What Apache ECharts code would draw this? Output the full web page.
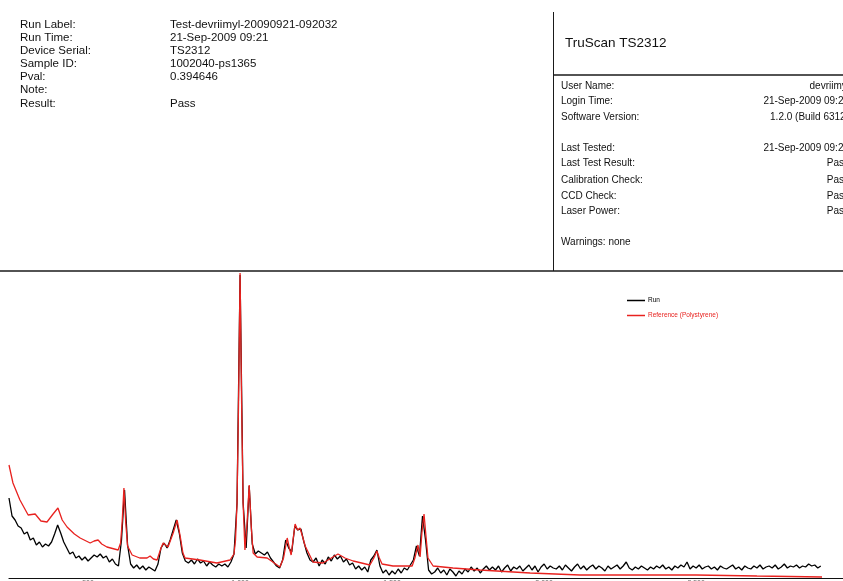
<!DOCTYPE html>
<html>
<head>
<meta charset="utf-8">
<script src="https://cdn.jsdelivr.net/npm/echarts@6/dist/echarts.min.js"></script>
<style>
html,body{margin:0;padding:0;background:#fff;}
#chart{width:843px;height:581px;}
</style>
</head>
<body>
<div id="chart"></div>
<script>
// Header info
var leftLabels = ['Run Label:', 'Run Time:', 'Device Serial:', 'Sample ID:', 'Pval:', 'Note:', 'Result:'];
var leftValues = ['Test-devriimyl-20090921-092032', '21-Sep-2009 09:21', 'TS2312', '1002040-ps1365', '0.394646', '', 'Pass'];
var panelTitle = 'TruScan TS2312';
var rightLabels = ['User Name:', 'Login Time:', 'Software Version:', '', 'Last Tested:', 'Last Test Result:', 'Calibration Check:', 'CCD Check:', 'Laser Power:', '', 'Warnings: none'];
var rightValues = ['devriimyl', '21-Sep-2009 09:20', '1.2.0 (Build 6312)', '', '21-Sep-2009 09:21', 'Pass', 'Pass', 'Pass', 'Pass', '', ''];

// Spectrum: Raman shift (cm-1)
var seriesNames = ['Run', 'Reference (Polystyrene)'];
var xTicks = [500, 1000, 1500, 2000, 2500];
var runStart = 240, runStep = 10;
var runValues = [
  80, 62, 58, 52, 50, 44, 46, 38, 40, 33,
  36, 31, 34, 32, 36, 44, 53, 45, 36, 30,
  24, 26, 20, 22, 18, 21, 17, 20, 23, 21,
  24, 20, 22, 16, 19, 14, 12, 38, 88, 33,
  14, 10, 13, 9, 12, 8, 11, 9, 7, 14,
  30, 35, 30, 38, 48, 58, 45, 25, 17, 15,
  18, 14, 19, 15, 17, 12, 16, 13, 11, 14,
  12, 14, 11, 16, 24, 75, 303, 75, 30, 92,
  34, 24, 27, 25, 23, 26, 20, 16, 12, 10,
  18, 38, 30, 26, 52, 48, 49, 36, 25, 18,
  16, 20, 12, 18, 14, 21, 17, 23, 19, 22,
  16, 19, 13, 15, 9, 12, 8, 11, 6, 18,
  22, 28, 12, 5, 8, 3, 7, 4, 9, 5,
  10, 8, 13, 18, 32, 22, 62, 38, 8, 4,
  6, 10, 5, 8, 3, 9, 6, 2, 7, 4,
  9, 6, 11, 7, 10, 5, 9, 12, 8, 11,
  8, 12, 6, 10, 13, 7, 11, 9, 12, 7,
  10, 13, 8, 12, 6, 11, 14, 9, 12, 10,
  9, 12, 8, 13, 10, 7, 11, 14, 9, 12,
  8, 11, 13, 9, 12, 10, 7, 12, 9, 11,
  13, 9, 12, 16, 10, 8, 11, 9, 12, 10,
  8, 11, 9, 12, 10, 13, 9, 11, 8, 12,
  10, 13, 11, 16, 9, 12, 10, 13, 9, 11,
  12, 9, 11, 8, 12, 10, 9, 11, 13, 9,
  11, 8, 12, 10, 9, 12, 10, 13, 9, 11,
  12, 10, 13, 9, 11, 14, 10, 12, 11, 13,
  10, 12, 11, 14, 12, 13, 10, 12
];
var refShift = [240,253,276,303,326,345,365,385,401,415,431,455,474,507,520,533,545,562,599,607,612,618,624,630,645,670,694,704,715,727,740,747,763,780,793,803,812,819,868,924,967,980,985,990,995,1000,1005,1010,1016,1023,1030,1037,1043,1056,1089,1131,1143,1155,1162,1168,1175,1181,1189,1197,1205,1214,1240,1273,1300,1322,1345,1372,1427,1440,1450,1458,1467,1503,1566,1575,1585,1592,1598,1605,1612,1618,1635,1700,1789,1954,2118,2300,2500,2700,2914];
var refValues = [113,95,78,63,64,57,56,64,70,58,51,44,40,35,37,38,34,31,28,35,55,90,55,32,23,20,20,22,19,18,30,35,31,45,58,42,25,20,18,15,18,24,38,75,175,305,175,75,28,55,93,50,25,21,20,11,20,40,30,23,40,54,48,50,42,32,16,15,20,24,20,17,13,20,27,20,14,12,12,20,33,21,45,64,40,20,12,10,8,5,3,3,3,2,1];

var runData = runValues.map(function (v, i) { return [runStart + i * runStep, v]; });
var refData = refShift.map(function (s, i) { return [s, refValues[i]]; });

var font = '"Liberation Sans", Arial, sans-serif';
var graphics = [];
function txt(x, y, t, size, align, color) {
  graphics.push({type: 'text', silent: true, style: {x: x, y: y, text: t, font: size + 'px ' + font, fill: color || '#111', textAlign: align || 'left', textVerticalAlign: 'middle'}});
}
function ln(x1, y1, x2, y2, w) {
  graphics.push({type: 'line', silent: true, shape: {x1: x1, y1: y1, x2: x2, y2: y2}, style: {stroke: '#1a1a1a', lineWidth: w || 1}});
}
var leftY = [25, 37.5, 50.5, 63.5, 76.5, 90, 103.5];
leftLabels.forEach(function (l, i) {
  txt(20, leftY[i], l, 11.5);
  if (leftValues[i]) txt(170, leftY[i], leftValues[i], 11.5);
});
txt(565, 43, panelTitle, 13.5);
var rightY = [86, 101, 117, 132, 148, 163, 180, 196, 211, 226, 242];
rightLabels.forEach(function (l, i) {
  if (l) txt(561, rightY[i], l, 10);
  if (rightValues[i]) txt(849, rightY[i], rightValues[i], 10, 'right');
});
ln(553.5, 12, 553.5, 271, 1);
ln(553, 75, 843, 75, 1.5);
ln(0, 271, 843, 271, 1.3);

var chart = echarts.init(document.getElementById('chart'));
chart.setOption({
  animation: false,
  backgroundColor: '#fff',
  graphic: graphics,
  grid: {left: 9, right: 0, top: 273, bottom: 3, containLabel: false, outerBoundsMode: 'none'},
  legend: {
    orient: 'vertical', left: 622, top: 292, itemWidth: 18, itemHeight: 1.5, itemGap: 8,
    icon: 'rect',
    textStyle: {fontSize: 6.5, fontFamily: font, padding: [0, 0, 0, -2]},
    data: [
      {name: seriesNames[0], textStyle: {color: '#000'}},
      {name: seriesNames[1], textStyle: {color: '#e8221f'}}
    ]
  },
  xAxis: {
    type: 'value', min: 240, max: 2983,
    axisLine: {show: true, lineStyle: {color: '#111', width: 1.2}},
    axisTick: {show: false},
    splitLine: {show: false},
    axisLabel: {customValues: xTicks, fontSize: 7, color: '#666', margin: 2, fontFamily: font}
  },
  yAxis: {
    type: 'value', min: 0, max: 305, show: false, splitLine: {show: false}
  },
  series: [
    {name: seriesNames[0], type: 'line', data: runData, symbol: 'none', color: '#000',
     lineStyle: {color: '#000', width: 1.3}},
    {name: seriesNames[1], type: 'line', data: refData, symbol: 'none', color: '#e8221f',
     lineStyle: {color: '#e8221f', width: 1.3}}
  ]
});
</script>
</body>
</html>
